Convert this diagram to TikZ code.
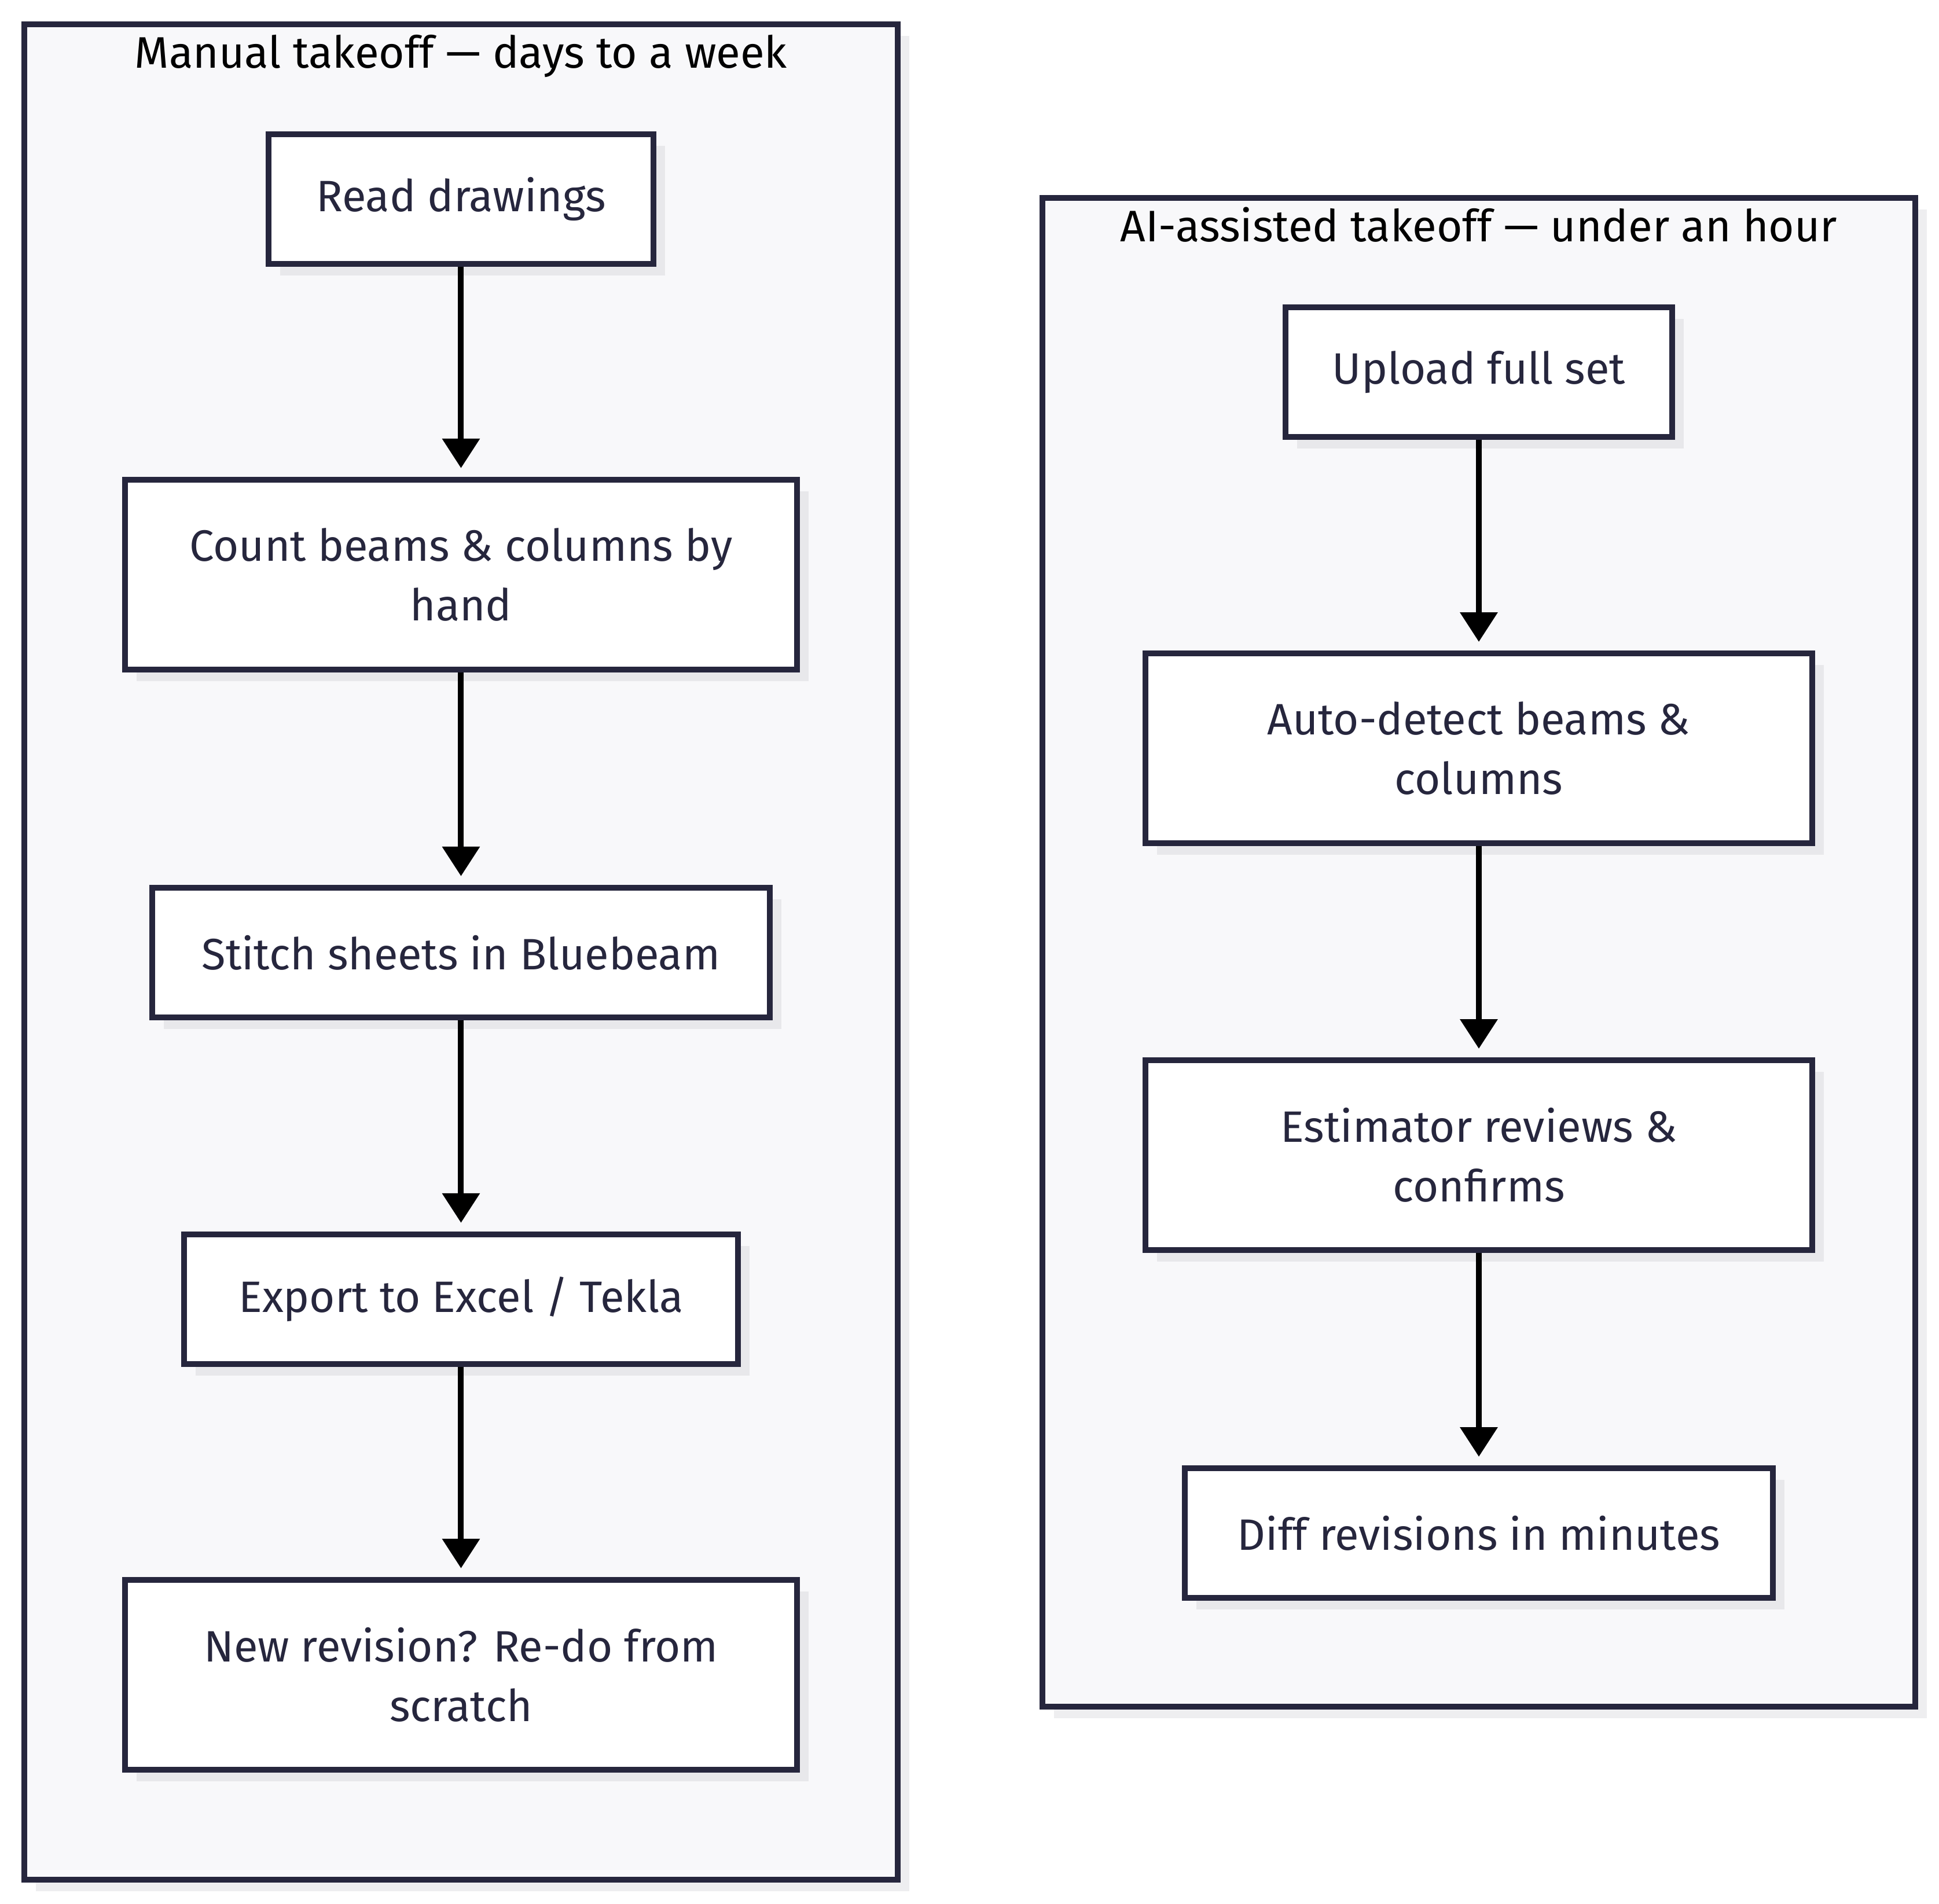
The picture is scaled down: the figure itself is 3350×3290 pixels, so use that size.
\documentclass[tikz,border=0pt]{standalone}
\usepackage{fontspec}
\setmainfont{Fira Sans}
\usepackage{tikz}
\usetikzlibrary{shadows, arrows.meta}

\definecolor{inkline}{RGB}{38,38,61}
\definecolor{clusterfill}{RGB}{248,248,250}
\definecolor{clustershade}{RGB}{238,238,240}
\definecolor{stepshade}{RGB}{232,232,235}

\tikzset{
	cluster/.style={draw=inkline, line width=0.1cm, fill=clusterfill, minimum width=15.08cm,
		drop shadow={shadow xshift=0.2cm, shadow yshift=-0.2cm, fill=clustershade, opacity=1}},
	clustertitle/.style={text=black, anchor=base, font=\fontsize{21.7}{25}\selectfont},
	stepbox/.style={draw=inkline, line width=0.1cm, fill=white, text=inkline, align=center,
		minimum height=2.24cm, inner sep=0pt, font=\fontsize{21.6}{29.3}\selectfont,
		drop shadow={shadow xshift=0.2cm, shadow yshift=-0.2cm, fill=stepshade, opacity=1}},
	tallbox/.style={stepbox, minimum height=3.28cm},
	flow/.style={-{Triangle[length=0.51cm, width=0.63cm]}, line width=0.1cm, black, shorten >=0.15cm}
}

\begin{document}
\begin{tikzpicture}[x=0.01cm, y=-0.01cm]
	\useasboundingbox (0,0) rectangle (3350,3290);
	
	% --- 人工算量 ---
	\begin{scope}[xshift=7.96cm]
		\node[cluster, minimum height=32.04cm] (manualbox) at (0,1645) {};
		\node[clustertitle] (manualtitle) at (0,117) {Manual takeoff — days to a week};
		
		\node[stepbox, minimum width=6.65cm] (read) at (0,344) {Read drawings};
		\node[tallbox, minimum width=11.6cm] (count) at (0,993) {Count beams \& columns by\\hand};
		\node[stepbox, minimum width=10.67cm] (stitch) at (0,1646) {Stitch sheets in Bluebeam};
		\node[stepbox, minimum width=9.56cm] (export) at (0,2245) {Export to Excel / Tekla};
		\node[tallbox, minimum width=11.6cm] (redo) at (0,2894) {New revision? Re-do from\\scratch};
		
		\draw[flow] (read) -- (count);
		\draw[flow] (count) -- (stitch);
		\draw[flow] (stitch) -- (export);
		\draw[flow] (export) -- (redo);
	\end{scope}
	
	% --- AI 辅助算量 ---
	\begin{scope}[xshift=25.535cm, yshift=-3cm]
		\node[cluster, minimum height=26.05cm] (aibox) at (0,1345.5) {};
		\node[clustertitle] (aititle) at (0,117) {AI-assisted takeoff — under an hour};
		
		\node[stepbox, minimum width=6.67cm] (upload) at (0,343) {Upload full set};
		\node[tallbox, minimum width=11.52cm] (detect) at (0,993) {Auto-detect beams \&\\columns};
		\node[tallbox, minimum width=11.52cm] (review) at (0,1696) {Estimator reviews \&\\confirms};
		\node[stepbox, minimum width=10.16cm] (diff) at (0,2349) {Diff revisions in minutes};
		
		\draw[flow] (upload) -- (detect);
		\draw[flow] (detect) -- (review);
		\draw[flow] (review) -- (diff);
	\end{scope}
\end{tikzpicture}
\end{document}
